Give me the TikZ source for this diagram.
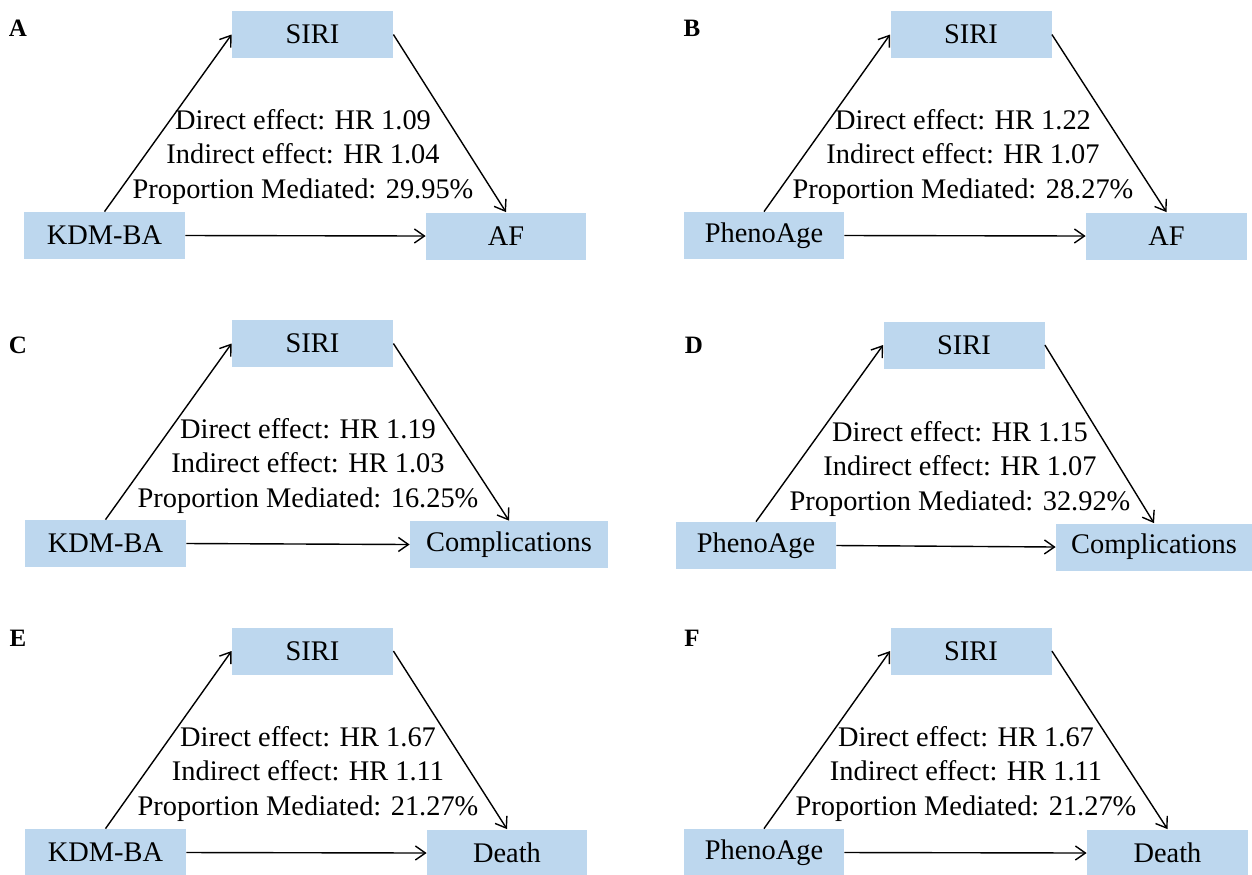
\documentclass[tikz,border=0pt]{standalone}
\usepackage{fontspec}
\setmainfont{Liberation Serif}
\usetikzlibrary{arrows.meta}
\definecolor{boxblue}{RGB}{189,215,238}
\tikzset{
  box/.style={fill=boxblue, minimum height=23.5pt, inner sep=0pt, font=\fontsize{14.2}{17}\selectfont},
  link/.style={-{Straight Barb[length=5pt,width=7pt]}, line width=0.7pt},
  effects/.style={align=center, inner sep=0pt, font=\fontsize{14.2}{17.3}\selectfont},
  panel/.style={font=\fontsize{12.5}{15}\selectfont\bfseries}
}

\begin{document}
\begin{tikzpicture}[x=0.5pt,y=-0.5pt]
\useasboundingbox (0,0) rectangle (1252,874);
\foreach \pl/\plx/\ply/\sx/\sy/\lx/\ly/\lw/\lt/\rx/\ry/\rw/\rt/\tx/\ty/\dir/\ind/\med in {
  A/18/28/312.5/34.5/104.5/235.5/80.5/KDM-BA/506/236/80/AF/303/157/1.09/1.04/29.95,
  B/692/28/971/34.5/764/235.5/80/PhenoAge/1166.5/236/80.5/AF/963/157/1.22/1.07/28.27,
  C/18/345/312.5/343.5/105.5/543.5/80.5/KDM-BA/509/544.5/99/Complications/308/466/1.19/1.03/16.25,
  D/694/345/964/345/756/545.5/80/PhenoAge/1154/547/98/Complications/960/469/1.15/1.07/32.92,
  E/18/638/312.5/651/105.5/852.5/80.5/KDM-BA/507/853/80/Death/308/774/1.67/1.11/21.27,
  F/692/638/971/651/764/852.5/80/PhenoAge/1167.5/853/80.5/Death/966/774/1.67/1.11/21.27}
{
  \node[panel] (lab\pl) at (\plx,\ply) {\pl};
  \node[box, minimum width=80.5pt] (siri\pl) at (\sx,\sy) {SIRI};
  \node[box, minimum width=\lw pt] (expo\pl) at (\lx,\ly) {\lt};
  \node[box, minimum width=\rw pt] (outc\pl) at (\rx,\ry) {\rt};
  \node[effects] (eff\pl) at (\tx,\ty) {Direct effect: HR \dir\\Indirect effect: HR \ind\\Proportion Mediated: \med\%};
  \draw[link] (expo\pl.north) -- (siri\pl.west);
  \draw[link] (siri\pl.east) -- (outc\pl.north);
  \draw[link] (expo\pl.east) -- (outc\pl.west);
}
\end{tikzpicture}
\end{document}
